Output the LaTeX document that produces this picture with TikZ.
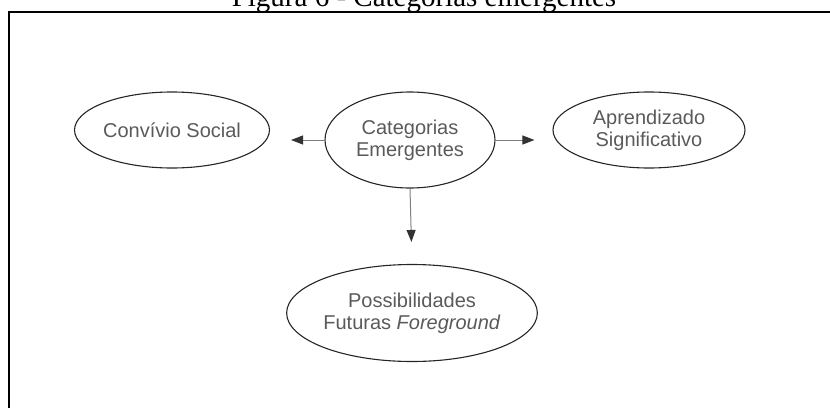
\documentclass[tikz,border=0pt]{standalone}
\usepackage{fontspec}
\setmainfont{Liberation Sans}
\newfontfamily\titlefont{Liberation Serif}
\usetikzlibrary{shapes.geometric,arrows.meta}
\definecolor{txtgray}{HTML}{5A5A5A}
\definecolor{linegray}{HTML}{808080}
\definecolor{tipgray}{HTML}{333333}
\tikzset{
  cat/.style={draw=black!85, line width=1.1pt, ellipse, inner sep=0pt,
    text=txtgray, align=center, font=\fontsize{20}{22}\selectfont},
  conn/.style={draw=linegray, line width=1pt,
    -{Triangle[length=12pt,width=9pt,color=tipgray]}},
}
\begin{document}
\begin{tikzpicture}[x=1pt,y=-1pt]
\clip (0,0) rectangle (830,407);
\useasboundingbox (0,0) rectangle (830,407);
% title (cut at top)
\node[font=\titlefont\fontsize{29}{30}\selectfont, anchor=base] (title) at (424,6) {Figura 6 - Categorias emergentes};
% frame (open right and bottom)
\draw[line width=2pt] (8.5,420) -- (8.5,12) -- (840,12);
% nodes
\node[cat, minimum width=190pt, minimum height=76pt] (social) at (172,130) {Convívio Social};
\node[cat, minimum width=170pt, minimum height=96pt] (emerg) at (410,140) {Categorias\\Emergentes};
\node[cat, minimum width=192pt, minimum height=76pt] (aprend) at (649,130) {Aprendizado\\Significativo};
\node[cat, minimum width=250pt, minimum height=97pt] (futuras) at (412,313) {Possibilidades\\Futuras \textit{Foreground}};
% connectors
\draw[conn, shorten >=21pt] (emerg.west) -- (emerg.west -| social.east);
\draw[conn, shorten >=18pt] (emerg.east) -- (emerg.east -| aprend.west);
\draw[conn, shorten >=22pt] (emerg.south) -- (futuras.north);
\end{tikzpicture}
\end{document}
